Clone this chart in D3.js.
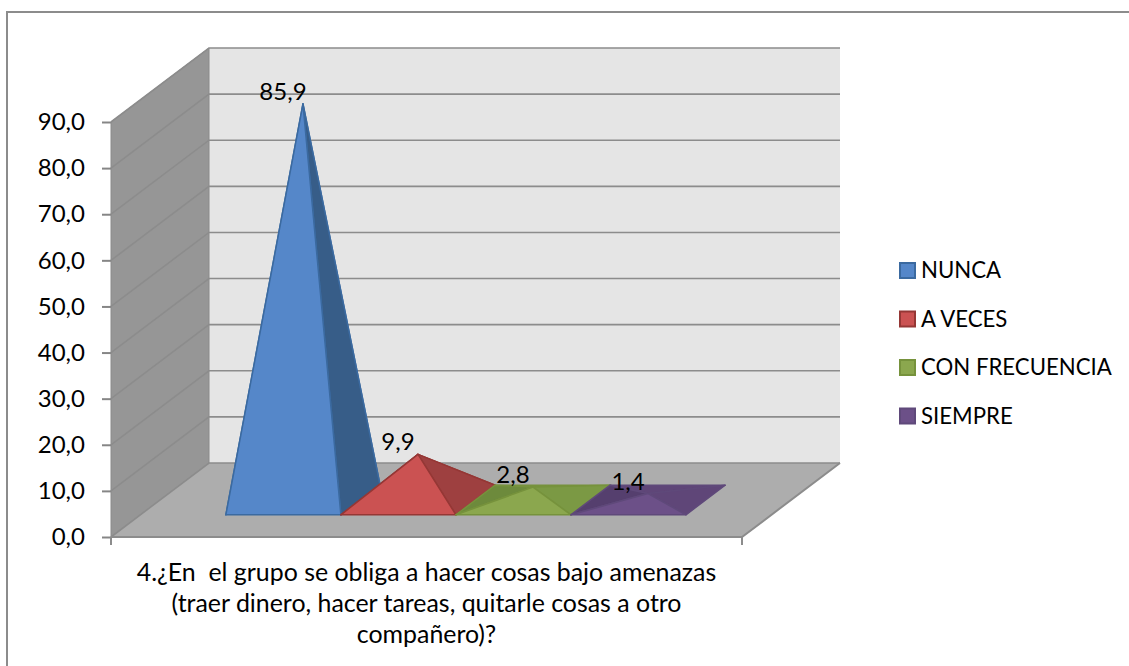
<!DOCTYPE html>
<html lang="es">
<head>
<meta charset="UTF-8">
<title>Grupo</title>
<script src="https://d3js.org/d3.v7.min.js"></script>
<style>
html, body { margin: 0; padding: 0; background: #fff; }
svg { display: block; }
text { font-family: Lato, sans-serif; fill: #000; }
.y-axis line { stroke: #868686; stroke-width: 2; }
.y-axis text { font-size: 24px; }
.label { font-size: 24px; text-anchor: middle; }
.legend-text { font-size: 22.2px; }
.caption { font-size: 24.9px; text-anchor: middle; white-space: pre; }
</style>
</head>
<body>
<div id="chart"></div>
<script>

// Data
const series = ["NUNCA", "A VECES", "CON FRECUENCIA", "SIEMPRE"];
const values = [85.9, 9.9, 2.8, 1.4];
const valueLabels = ["85,9", "9,9", "2,8", "1,4"];
const yTicks = [0, 10, 20, 30, 40, 50, 60, 70, 80, 90];
const caption = [
  "4.¿En  el grupo se obliga a hacer cosas bajo amenazas",
  "(traer dinero, hacer tareas, quitarle cosas a otro",
  "compañero)?"
];

// Colours per pyramid face
const colors = [
  { front: "#5587c9", right: "#375d88", back: "#3d6696", left: "#3d6696", edge: "#3b6aa0" },
  { front: "#cb5252", right: "#9e4040", back: "#9e4040", left: "#a34343", edge: "#953735" },
  { front: "#8ba74e", right: "#7b9944", back: "#7b9944", left: "#6d8a3c", edge: "#76923c" },
  { front: "#6c5088", right: "#5f4678", back: "#5f4678", left: "#553f6e", edge: "#5f497a" }
];

const totalWidth = 1129, totalHeight = 666;

// floor corners of the 3D box
const x0 = 111, x1 = 742, yBase = 537, yTop = 122;
const depthX = 98, depthY = -74;

const svg = d3.select("#chart").append("svg")
  .attr("width", totalWidth)
  .attr("height", totalHeight);

// outer frame, only top and left are in the picture
svg.append("path")
  .attr("d", `M7,${totalHeight}V12H${totalWidth}`)
  .attr("fill", "none")
  .attr("stroke", "#8c8c8c")
  .attr("stroke-width", 2);

// Scales
const y = d3.scaleLinear().domain([0, 90]).range([yBase, yTop]);
const band = d3.scaleBand().domain(series).range([x0, x1]).paddingInner(0).paddingOuter(0.743);

// depth goes 0 (front) to 1 (back)
const px = (x, d) => x + d * depthX;
const py = (yy, d) => yy + d * depthY;
const line = pts => "M" + pts.map(p => p.join(",")).join("L") + "Z";

// Walls and floor
svg.append("path")
  .attr("d", line([[px(x0, 1), py(yBase, 1)], [px(x1, 1), py(yBase, 1)], [px(x1, 1), py(yTop, 1)], [px(x0, 1), py(yTop, 1)]]))
  .attr("fill", "#e5e5e5");

svg.append("path")
  .attr("d", line([[x0, yBase], [px(x0, 1), py(yBase, 1)], [px(x0, 1), py(yTop, 1)], [x0, yTop]]))
  .attr("fill", "#969696")
  .attr("stroke", "#8a8a8a");

svg.append("path")
  .attr("d", line([[x0, yBase], [x1, yBase], [px(x1, 1), py(yBase, 1)], [px(x0, 1), py(yBase, 1)]]))
  .attr("fill", "#adadad");

// Gridlines on side wall and back wall
svg.append("g").selectAll("path")
  .data(yTicks)
  .join("path")
  .attr("fill", "none")
  .attr("stroke", "#8c8c8c")
  .attr("stroke-width", 1.6)
  .attr("d", d => `M${x0},${y(d)}L${px(x0, 1)},${py(y(d), 1)}L${px(x1, 1)},${py(y(d), 1)}`);

// Front and right edge of floor
svg.append("path")
  .attr("d", `M${x0},${yBase}L${x1},${yBase}L${px(x1, 1)},${py(yBase, 1)}`)
  .attr("fill", "none")
  .attr("stroke", "#8c8c8c")
  .attr("stroke-width", 2);

// Axes
svg.append("g")
  .attr("class", "y-axis")
  .attr("transform", `translate(${x0}, 0)`)
  .call(d3.axisLeft(y)
    .tickValues(yTicks)
    .tickSize(9)
    .tickPadding(17)
    .tickFormat(d => d3.format(".1f")(d).replace(".", ",")))
  .call(g => g.select(".domain").remove());

svg.append("g").selectAll("line")
  .data([x0, x1])
  .join("line")
  .attr("x1", d => d).attr("x2", d => d)
  .attr("y1", yBase).attr("y2", yBase + 8)
  .attr("stroke", "#8c8c8c")
  .attr("stroke-width", 2);

// Pyramids
const dFront = 0.3, dBack = 0.7;
const pyramids = svg.append("g").selectAll("g")
  .data(series)
  .join("g");

pyramids.each(function(s, i) {
  const g = d3.select(this);
  const left = band(s), right = left + band.bandwidth();
  const c = colors[i];
  const fl = [px(left, dFront), py(yBase, dFront)];
  const fr = [px(right, dFront), py(yBase, dFront)];
  const bl = [px(left, dBack), py(yBase, dBack)];
  const br = [px(right, dBack), py(yBase, dBack)];
  const apex = [px((left + right) / 2, 0.5), py(y(values[i]), 0.5)];
  const faces = [
    [[bl, br, apex], c.back],
    [[fl, bl, apex], c.left],
    [[fr, br, apex], c.right],
    [[fl, fr, apex], c.front]
  ];
  g.selectAll("path")
    .data(faces)
    .join("path")
    .attr("d", d => line(d[0]))
    .attr("fill", d => d[1])
    .attr("stroke", c.edge)
    .attr("stroke-width", 1.5)
    .attr("stroke-linejoin", "round");
});

// Data labels
svg.append("g").selectAll("text")
  .data(series)
  .join("text")
  .attr("class", "label")
  .attr("x", d => px(band(d) + band.bandwidth() / 2, 0.5) - 20)
  .attr("y", (d, i) => py(y(values[i]), 0.5) - 4)
  .text((d, i) => valueLabels[i]);

// Caption
svg.append("g").selectAll("text")
  .data(caption)
  .join("text")
  .attr("class", "caption")
  .attr("x", (x0 + x1) / 2)
  .attr("y", (d, i) => 580.5 + i * 31.2)
  .text(d => d);

// Legend
const legend = svg.append("g").selectAll("g")
  .data(series)
  .join("g")
  .attr("transform", (d, i) => `translate(899, ${262 + i * 48.5})`);

legend.append("rect")
  .attr("x", 1).attr("y", 1)
  .attr("width", 15).attr("height", 15)
  .attr("fill", (d, i) => colors[i].front)
  .attr("stroke", (d, i) => colors[i].edge)
  .attr("stroke-width", 2);

legend.append("text")
  .attr("class", "legend-text")
  .attr("x", 22)
  .attr("y", 16)
  .text(d => d);

</script>
</body>
</html>
